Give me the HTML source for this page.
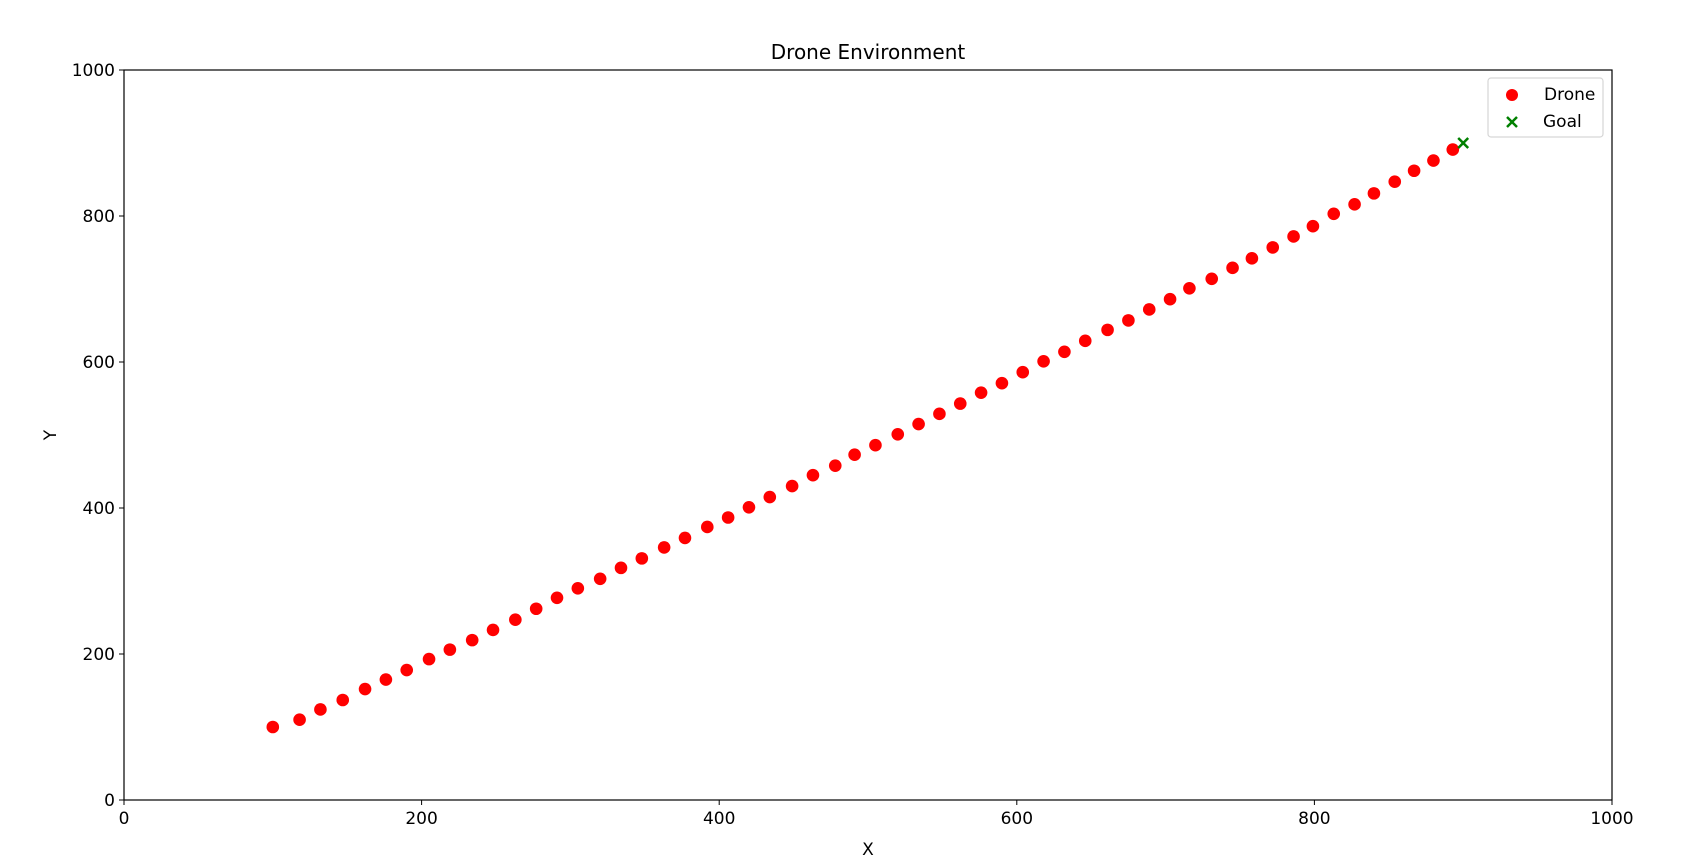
<!DOCTYPE html>
<html><head><meta charset="utf-8"><style>
body{margin:0;background:#fff}
svg{display:block;font-family:"DejaVu Sans","Liberation Sans",sans-serif}
</style></head><body>
<svg id="c" width="1682" height="857" viewBox="0 0 1682 857"></svg>
<script>
const droneX=[100,118,132,147,162,176,190,205,219,234,248,263,277,291,305,320,334,348,363,377,392,406,420,434,449,463,478,491,505,520,534,548,562,576,590,604,618,632,646,661,675,689,703,716,731,745,758,772,786,799,813,827,840,854,867,880,893];
const droneY=[100,110,124,137,152,165,178,193,206,219,233,247,262,277,290,303,318,331,346,359,374,387,401,415,430,445,458,473,486,501,515,529,543,558,571,586,601,614,629,644,657,672,686,701,714,729,742,757,772,786,803,816,831,847,862,876,891];
const goalX=[900], goalY=[900];
const xTicks=[0,200,400,600,800,1000], yTicks=[0,200,400,600,800,1000];
const L=124,R=1612,T=70,B=800;
const sx=v=>L+(R-L)*v/1000, sy=v=>B-(B-T)*v/1000;
const svg=document.getElementById('c');const NS='http://www.w3.org/2000/svg';
function mk(t,a,p){const e=document.createElementNS(NS,t);for(const k in a)e.setAttribute(k,a[k]);(p||svg).appendChild(e);return e;}
const frame=mk('rect',{x:L,y:T,width:R-L,height:B-T,fill:'none',stroke:'#000','stroke-width':1.2});


xTicks.forEach(v=>{const g=mk('g',{});


mk('line',{x1:sx(v),x2:sx(v),y1:B,y2:B+5,stroke:'#000'},g);
const t=mk('text',{x:sx(v),y:B+24,'text-anchor':'middle','font-size':17},g);t.textContent=v;});
yTicks.forEach(v=>{const g=mk('g',{});


mk('line',{x1:L-5,x2:L,y1:sy(v),y2:sy(v),stroke:'#000'},g);
const t=mk('text',{x:L-9,y:sy(v)+6,'text-anchor':'end','font-size':17},g);t.textContent=v;});
droneX.forEach((x,i)=>{const c=mk('circle',{cx:sx(x),cy:sy(droneY[i]),r:6.3,fill:'#ff0000'});

});
goalX.forEach((x,i)=>{const g=mk('g',{stroke:'#008000','stroke-width':2.5});


const cx=sx(x),cy=sy(goalY[i]);
mk('line',{x1:cx-5,y1:cy-5,x2:cx+5,y2:cy+5},g);mk('line',{x1:cx-5,y1:cy+5,x2:cx+5,y2:cy-5},g);});
</script>
<svg style="position:absolute;left:0;top:0" width="1682" height="857">
<text x="868" y="59" text-anchor="middle" font-size="20">Drone Environment</text>
<text x="868" y="855" text-anchor="middle" font-size="17">X</text>
<text x="56" y="435" text-anchor="middle" font-size="17" transform="rotate(-90 56 435)">Y</text>
<g>
<rect x="1488" y="78" width="115" height="59" rx="3" fill="#fff" stroke="#d6d6d6" stroke-width="1.2"/>
<circle cx="1512" cy="95" r="6" fill="#ff0000"/>
<text x="1544" y="100" font-size="17">Drone</text>
<g stroke="#008000" stroke-width="2.5"><line x1="1507" y1="117" x2="1517" y2="127"/><line x1="1507" y1="127" x2="1517" y2="117"/></g>
<text x="1543" y="127" font-size="17">Goal</text>
</g>
</svg>
</body></html>
